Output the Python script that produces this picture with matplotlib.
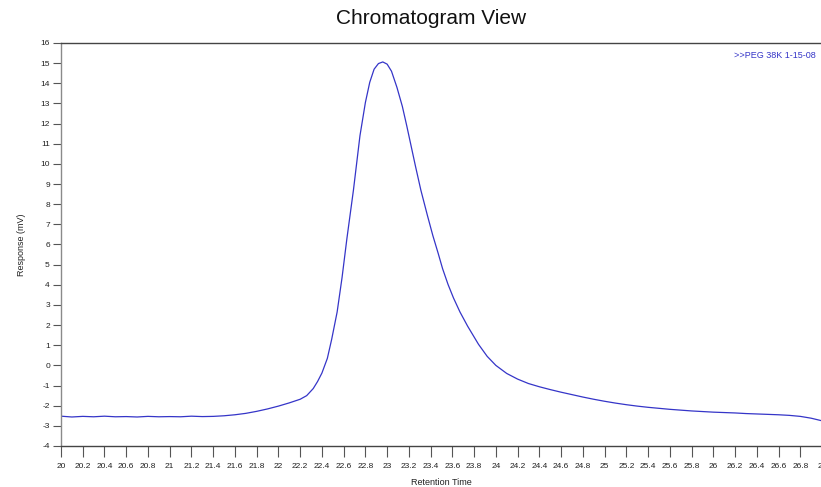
import numpy as np
import matplotlib
matplotlib.use("Agg")
import matplotlib.pyplot as plt

# ---------- data ----------
rt = [20.0, 20.1, 20.2, 20.3, 20.4, 20.5, 20.6, 20.7, 20.8, 20.9, 21.0, 21.1,
      21.2, 21.3, 21.4, 21.5, 21.6, 21.7, 21.8, 21.9, 22.0, 22.1, 22.2, 22.26,
      22.32, 22.36, 22.40, 22.45, 22.49, 22.54, 22.585, 22.63, 22.69, 22.75,
      22.80, 22.84, 22.88, 22.92, 22.96, 23.0, 23.04, 23.09, 23.14, 23.18,
      23.22, 23.26, 23.31, 23.37, 23.42, 23.47, 23.51, 23.56, 23.61, 23.67,
      23.74, 23.84, 23.92, 24.0, 24.1, 24.2, 24.3, 24.4, 24.5, 24.6, 24.7,
      24.8, 24.9, 25.0, 25.1, 25.2, 25.3, 25.4, 25.5, 25.6, 25.7, 25.8, 25.9,
      26.0, 26.1, 26.2, 26.3, 26.4, 26.5, 26.6, 26.7, 26.8, 26.9, 27.0]
resp = [-2.52, -2.56, -2.53, -2.55, -2.52, -2.55, -2.54, -2.56, -2.53, -2.55,
        -2.54, -2.55, -2.52, -2.54, -2.53, -2.50, -2.45, -2.38, -2.28, -2.16,
        -2.02, -1.86, -1.68, -1.50, -1.15, -0.80, -0.38, 0.35, 1.30, 2.65,
        4.35, 6.30, 8.70, 11.40, 13.05, 14.05, 14.70, 14.98, 15.06, 14.95,
        14.60, 13.80, 12.85, 11.90, 10.90, 9.90, 8.70, 7.45, 6.45, 5.55, 4.80,
        4.02, 3.35, 2.65, 1.95, 1.05, 0.45, 0.00, -0.40, -0.68, -0.90, -1.06,
        -1.20, -1.33, -1.45, -1.57, -1.68, -1.78, -1.87, -1.95, -2.02, -2.08,
        -2.13, -2.18, -2.22, -2.26, -2.29, -2.32, -2.34, -2.36, -2.39, -2.41,
        -2.43, -2.45, -2.48, -2.53, -2.62, -2.75]

x_ticks = np.round(np.arange(20.0, 27.01, 0.2), 1)
x_labels = ["%g" % v for v in x_ticks]
y_ticks = list(range(-4, 17))

series_label = ">>PEG 38K 1-15-08"
line_col = "#3535c8"

# ---------- figure ----------
plt.rcParams['font.family'] = ['Liberation Sans', 'DejaVu Sans']
plt.rcParams['axes.unicode_minus'] = False
fig = plt.figure(figsize=(8.21, 4.87), dpi=100)
ax = fig.add_axes([61 / 821, 41 / 487, 761 / 821, 403 / 487])

ax.plot(rt, resp, color=line_col, lw=0.9)

ax.set_xlim(20, 27)
ax.set_ylim(-4, 16)
ax.set_xticks(x_ticks)
ax.set_xticklabels(x_labels)
ax.set_yticks(y_ticks)
ax.tick_params(axis='x', direction='out', length=8, width=0.8, colors='#555555',
               labelsize=6, labelcolor='#222222', pad=4)
ax.tick_params(axis='y', direction='out', length=6, width=0.8, colors='#555555',
               labelsize=6, labelcolor='#222222', pad=2)

ax.spines['left'].set_color('#8a8a8a')
ax.spines['bottom'].set_color('#444444')
ax.spines['top'].set_color('#444444')
ax.spines['right'].set_visible(False)
for s in ['left', 'bottom', 'top']:
    ax.spines[s].set_linewidth(1.0)

ax.set_xlabel("Retention Time", fontsize=6.5, color='#222222', labelpad=6)
ax.set_ylabel("Response (mV)", fontsize=6.5, color='#222222')
ax.yaxis.set_label_coords(-0.046, 0.5)

fig.text(0.525, 0.961, "Chromatogram View", ha='center', va='center',
         fontsize=15, color='#111111')
ax.text(0.992, 0.968, series_label, transform=ax.transAxes, ha='right',
        va='center', fontsize=6.5, color=line_col)

fig.savefig("out.png", dpi=100)
